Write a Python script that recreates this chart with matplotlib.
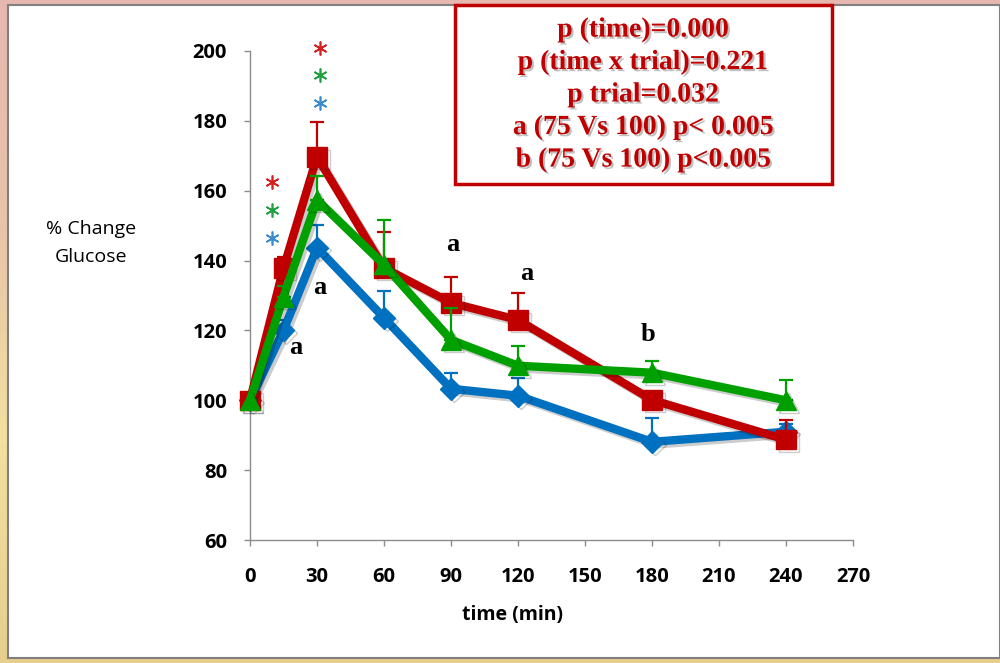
import matplotlib
matplotlib.use("Agg")
import matplotlib.pyplot as plt
import matplotlib.patheffects as pe
from matplotlib.patches import Rectangle
from matplotlib.colors import LinearSegmentedColormap
import numpy as np

time = [0, 15, 30, 60, 90, 120, 180, 240]
blue_mean = [100, 120.0, 143.7, 123.6, 103.3, 101.3, 88.1, 91.0]
blue_err = [0, 3.0, 6.5, 7.7, 4.6, 5.0, 6.7, 2.2]
green_mean = [100, 129.6, 157.4, 138.8, 117.3, 109.9, 107.9, 100.0]
green_err = [0, 3.0, 6.8, 12.8, 9.0, 5.7, 3.4, 5.8]
red_mean = [100, 137.9, 169.7, 137.9, 127.9, 123.0, 100.1, 88.7]
red_err = [0, 3.0, 9.9, 10.2, 7.5, 7.6, 2.0, 5.7]

xticks = [0, 30, 60, 90, 120, 150, 180, 210, 240, 270]
yticks = [60, 80, 100, 120, 140, 160, 180, 200]

stats_lines = ["p (time)=0.000", "p (time x trial)=0.221", "p trial=0.032",
               "a (75 Vs 100) p< 0.005", "b (75 Vs 100) p<0.005"]
letters = [("a", 20.6, 115.0), ("a", 31.3, 132.4), ("a", 90.9, 144.5),
           ("a", 124.0, 136.4), ("b", 178.2, 118.7)]
stars = [(9.9, 162.5, "red"), (9.9, 154.5, "green"), (9.9, 146.5, "blue"),
         (31.3, 200.9, "red"), (31.3, 193.1, "green"), (31.3, 185.1, "blue")]

RED = "#c00000"
GREEN = "#00a000"
BLUE = "#0070c0"
cmap = {"red": "#d42020", "green": "#20a040", "blue": "#3a8ad0"}

fig = plt.figure(figsize=(10, 6.63), dpi=100)
fig.patch.set_facecolor("#ecd2b4")
grad = np.linspace(0, 1, 100).reshape(-1, 1)
bgax = fig.add_axes([0, 0, 1, 1], zorder=-10)
bgax.axis("off")
bgcm = LinearSegmentedColormap.from_list("bg", ["#e6cf8c", "#f2e0a0", "#e8c4a8", "#e6b8b0"])
bgax.imshow(grad, aspect="auto", cmap=bgcm, extent=[0, 1, 0, 1], origin="lower")
bgax.set_xlim(0, 1); bgax.set_ylim(0, 1)
bgax.add_patch(Rectangle((0.008, 0.007), 0.992, 0.985, facecolor="white",
                         edgecolor="#808080", linewidth=1.5))

ax = fig.add_axes([0.25, 1 - 540 / 663, 0.603, (540 - 51) / 663])
ax.set_facecolor("none")
ax.set_xlim(0, 270)
ax.set_ylim(60, 200)
for s in ["top", "right"]:
    ax.spines[s].set_visible(False)
for s in ["left", "bottom"]:
    ax.spines[s].set_color("#8c8c8c")
    ax.spines[s].set_linewidth(1)
ax.set_xticks(xticks)
ax.set_yticks(yticks)
ax.tick_params(axis="both", direction="out", length=4.5, color="#8c8c8c", width=1,
               labelsize=14.5)
ax.tick_params(axis="y", pad=12)
ax.tick_params(axis="x", pad=15)
for lab in ax.get_xticklabels() + ax.get_yticklabels():
    lab.set_fontfamily("Open Sans")
    lab.set_fontweight("bold")

shadow = [pe.SimpleLineShadow(offset=(2, -2), shadow_color="black", alpha=0.2), pe.Normal()]

def series(mean, err, color, marker, ms, z):
    ax.errorbar(time, mean, yerr=[np.zeros(len(err)), err], fmt="none",
                ecolor=color, elinewidth=1.6, capsize=5, capthick=1.6, zorder=z)
    ax.plot(time, mean, color=color, linewidth=6, marker=marker, markersize=ms,
            markerfacecolor=color, markeredgecolor=color, zorder=z + 0.5,
            path_effects=shadow, clip_on=False)

series(blue_mean, blue_err, BLUE, "D", 11, 3)
series(red_mean, red_err, RED, "s", 14, 5)
series(green_mean, green_err, GREEN, "^", 14, 7)

for t, x, y in letters:
    ax.text(x, y, t, fontsize=19, fontweight="bold", family="Liberation Serif",
            ha="center", va="center", color="black", zorder=10)
for x, y, c in stars:
    ax.plot([x], [y], marker=(6, 2, 0), markersize=10, color=cmap[c],
            markeredgewidth=1.2, linestyle="none", clip_on=False, zorder=10)

fig.text(513 / 1000, 1 - 615 / 663, "time (min)", fontsize=14, fontweight="bold",
         family="Open Sans", ha="center", va="center")
fig.text(91 / 1000, 1 - 243 / 663, "% Change\nGlucose", fontsize=14, family="Open Sans",
         ha="center", va="center", linespacing=1.75)

bgax.add_patch(Rectangle((455 / 1000, 1 - 184 / 663), (832 - 455) / 1000, (184 - 5) / 663,
                         facecolor="white", edgecolor=RED, linewidth=2.5, zorder=5))
for i, line in enumerate(stats_lines):
    fig.text(643 / 1000, 1 - (30 + 32.5 * i) / 663, line, fontsize=20,
             fontweight="bold", family="Liberation Serif", color=RED,
             ha="center", va="center", zorder=20,
             path_effects=[pe.SimplePatchShadow(offset=(1.5, -1.5), shadow_rgbFace="gray",
                                                alpha=0.5), pe.Normal()])

fig.savefig("out.png", dpi=100)
